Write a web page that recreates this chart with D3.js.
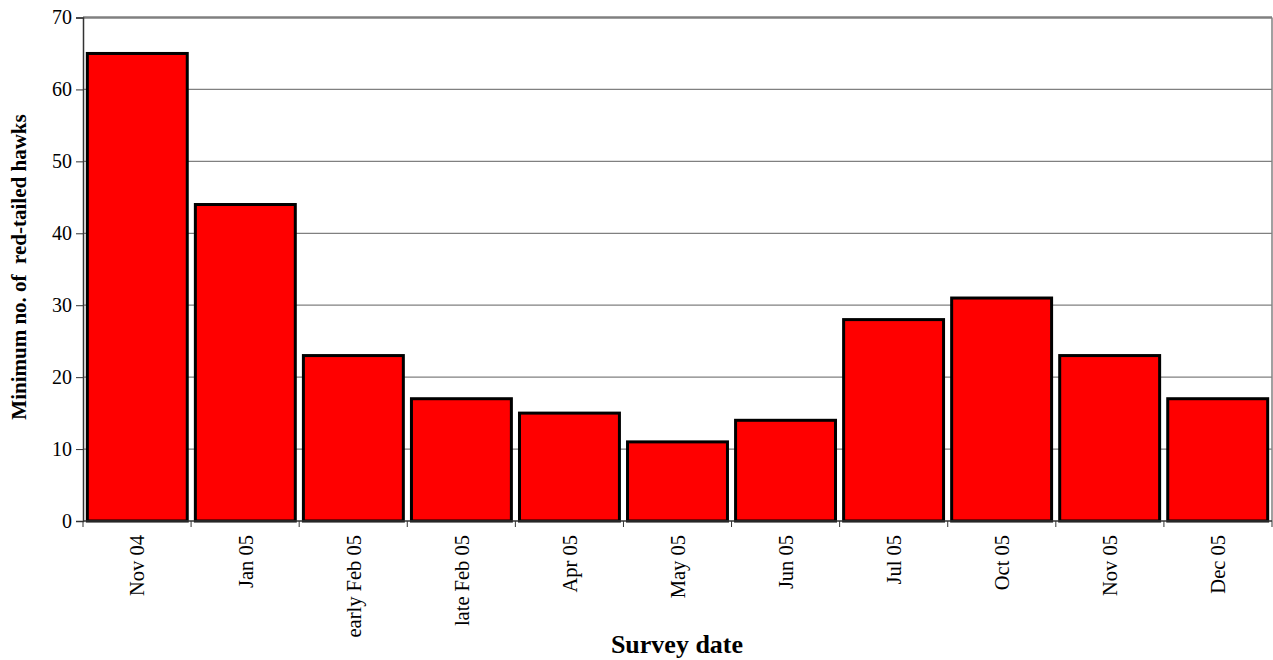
<!DOCTYPE html>
<html><head><meta charset="utf-8">
<script src="https://cdn.jsdelivr.net/npm/d3@7"></script>
<style>body{margin:0;background:#fff}svg{display:block}</style>
</head><body>
<svg id="c" width="1273" height="660"></svg>
<script>
const categories = ["Nov 04","Jan 05","early Feb 05","late Feb 05","Apr 05","May 05","Jun 05","Jul 05","Oct 05","Nov 05","Dec 05"];
const values = [65,44,23,17,15,11,14,28,31,23,17];
const yTicks = [0,10,20,30,40,50,60,70];
const yLabel = "Minimum no. of  red-tailed hawks";
const xLabel = "Survey date";

const svg = d3.select("#c");
const L = 83, R = 1272, T = 17.5, B = 521;
const x = d3.scaleBand().domain(categories).range([L, R]).paddingInner(0.075).paddingOuter(0.04);
const y = d3.scaleLinear().domain([0,70]).range([B, T]);
const font = "'Liberation Serif','Times New Roman',serif";

// gridlines
svg.append("g").selectAll("line").data(yTicks.filter(d=>d>0 && d<70)).join("line")
  .attr("x1", L).attr("x2", R).attr("y1", d=>y(d)).attr("y2", d=>y(d))
  .attr("stroke", "#808080").attr("stroke-width", 1.2);
// top and right border
svg.append("line").attr("x1", L).attr("x2", R).attr("y1", y(70)).attr("y2", y(70))
  .attr("stroke", "#808080").attr("stroke-width", 2.5);
svg.append("line").attr("x1", R).attr("x2", R).attr("y1", y(70)).attr("y2", B)
  .attr("stroke", "#808080").attr("stroke-width", 1.5);

// bars
svg.append("g").selectAll("rect").data(values).join("rect")
  .attr("x", (d,i)=>x(categories[i]))
  .attr("width", x.bandwidth())
  .attr("y", d=>y(d))
  .attr("height", d=>B - y(d))
  .attr("fill", "#ff0000").attr("stroke", "#000").attr("stroke-width", 3);

// y axis
const yAxis = d3.axisLeft(y).tickValues(yTicks).tickSize(7).tickPadding(4);
const gy = svg.append("g").attr("transform", `translate(${L},0)`).call(yAxis);
gy.select(".domain").attr("stroke", "#333").attr("stroke-width", 1.5);
gy.selectAll(".tick line").attr("stroke", "#333");
gy.selectAll("text").attr("font-family", font).attr("font-size", 20).attr("fill", "#000");

// x axis: ticks at band boundaries
const boundaries = d3.range(categories.length + 1).map(i => L + (R - L) * i / categories.length);
const gx = svg.append("g");
gx.append("line").attr("x1", L).attr("x2", R).attr("y1", B).attr("y2", B).attr("stroke", "#333").attr("stroke-width", 1.5);
gx.selectAll("line.t").data(boundaries).join("line").attr("class","t")
  .attr("x1", d=>d).attr("x2", d=>d).attr("y1", B).attr("y2", B+6).attr("stroke", "#333");
gx.selectAll("text").data(categories).join("text")
  .attr("transform", d=>`translate(${x(d)+x.bandwidth()/2},${B+14}) rotate(-90)`)
  .attr("text-anchor", "end").attr("dy", "0.35em")
  .attr("font-family", font).attr("font-size", 20.5).attr("fill", "#000")
  .text(d=>d);

// axis titles
svg.append("text").attr("x", 677).attr("y", 653).attr("text-anchor", "middle")
  .attr("font-family", font).attr("font-size", 26).attr("font-weight", "bold").text(xLabel);
svg.append("text").attr("transform", "translate(26,267) rotate(-90)").attr("text-anchor", "middle")
  .attr("font-family", font).attr("font-size", 21).attr("font-weight", "bold")
  .style("white-space", "pre").attr("xml:space","preserve").text(yLabel);
</script>
</body></html>
